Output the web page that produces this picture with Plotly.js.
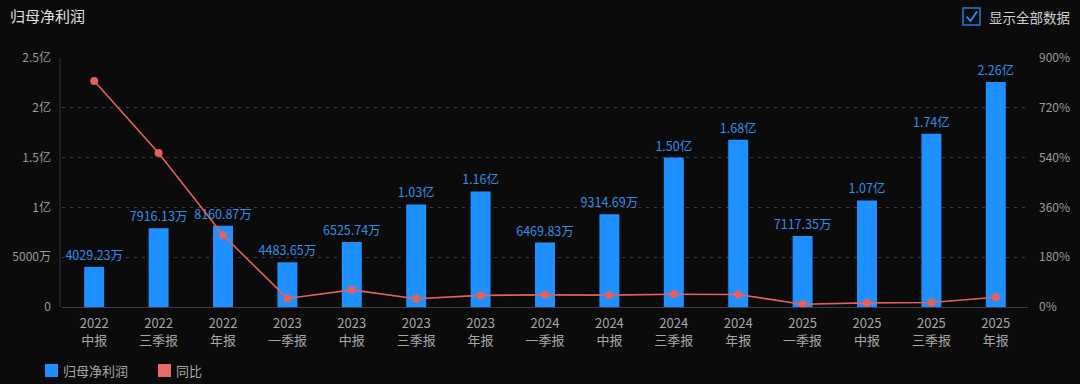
<!DOCTYPE html>
<html>
<head>
<meta charset="utf-8">
<script src="https://cdn.plot.ly/plotly-3.0.1.min.js"></script>
<style>
html,body{margin:0;padding:0;background:#0b0b0c;}
#chart{width:1080px;height:384px;}
</style>
</head>
<body>
<div id="chart"></div>
<script>
const years = ["2022","2022","2022","2023","2023","2023","2023","2024","2024","2024","2024","2025","2025","2025","2025"];
const periods = ["中报","三季报","年报","一季报","中报","三季报","年报","一季报","中报","三季报","年报","一季报","中报","三季报","年报"];
const profit = [40292300, 79161300, 81608700, 44836500, 65257400, 103000000, 116000000, 64698300, 93146900, 150000000, 168000000, 71173500, 107000000, 174000000, 226000000];
const yoy = [817, 557, 260, 31, 62, 30, 42, 44, 43, 46, 45, 10, 15, 16, 35];
const leftTickVals = [0, 50000000, 100000000, 150000000, 200000000, 250000000];
const leftTickText = ["0", "5000万", "1亿", "1.5亿", "2亿", "2.5亿"];
const rightTickVals = [0, 180, 360, 540, 720, 900];
const rightTickText = ["0%", "180%", "360%", "540%", "720%", "900%"];

const cats = years.map((y, i) => y + "<br>" + periods[i]);
const labels = profit.map(v => v >= 1e8 ? (v / 1e8).toFixed(2) + "亿" : (v / 1e4).toFixed(2) + "万");

const W = 1080, H = 384, ML = 62, MR = 52, MT = 58, MB = 77;
const px = x => (x - ML) / (W - ML - MR);
const py = y => (H - MB - y) / (H - MT - MB);

const FONT = '"Noto Sans CJK SC", "Noto Sans", sans-serif';
const BLUE = '#1e90ff';
const RED = '#e4615c';

const traces = [
  {
    type: 'bar', x: cats, y: profit, name: '归母净利润',
    marker: {color: BLUE}, width: 0.31,
    text: labels, textposition: 'outside', constraintext: 'none', cliponaxis: false,
    textfont: {color: '#2f8fe6', size: 12.5, family: FONT},
    showlegend: false, hoverinfo: 'x+y'
  },
  {
    type: 'scatter', mode: 'lines+markers', x: cats, y: yoy, yaxis: 'y2', name: '同比',
    line: {color: RED, width: 1.6}, marker: {color: RED, size: 8},
    showlegend: false, cliponaxis: false
  }
];

const shapes = [
  {type: 'line', xref: 'paper', yref: 'paper', x0: px(60), x1: px(60), y0: 0, y1: 1, line: {color: '#2c3540', width: 1}},
  {type: 'rect', xref: 'paper', yref: 'paper', x0: px(963), x1: px(980), y0: py(25), y1: py(8), line: {color: '#1e7fd8', width: 1.5}, fillcolor: 'rgba(0,0,0,0)'},
  {type: 'path', xref: 'paper', yref: 'paper', path: `M ${px(966.5)} ${py(16.5)} L ${px(970.5)} ${py(21)} L ${px(977)} ${py(11.5)}`, line: {color: '#1e90ff', width: 1.8}},
  {type: 'rect', xref: 'paper', yref: 'paper', x0: px(45), x1: px(58), y0: py(377), y1: py(364), line: {width: 0}, fillcolor: BLUE},
  {type: 'rect', xref: 'paper', yref: 'paper', x0: px(158), x1: px(171), y0: py(377), y1: py(364), line: {width: 0}, fillcolor: '#e8696a'}
];

const annotations = [
  {xref: 'paper', yref: 'paper', x: px(8), y: py(16), xanchor: 'left', yanchor: 'middle', showarrow: false, text: '归母净利润', font: {color: '#e0e0e0', size: 15, family: FONT}},
  {xref: 'paper', yref: 'paper', x: px(987), y: py(17), xanchor: 'left', yanchor: 'middle', showarrow: false, text: '显示全部数据', font: {color: '#d0d0d0', size: 13.5, family: FONT}},
  {xref: 'paper', yref: 'paper', x: px(61), y: py(370.5), xanchor: 'left', yanchor: 'middle', showarrow: false, text: '归母净利润', font: {color: '#a8a8a8', size: 13, family: FONT}},
  {xref: 'paper', yref: 'paper', x: px(174), y: py(370.5), xanchor: 'left', yanchor: 'middle', showarrow: false, text: '同比', font: {color: '#a8a8a8', size: 13, family: FONT}}
];

const layout = {
  width: W, height: H,
  margin: {l: ML, r: MR, t: MT, b: MB, pad: 0},
  paper_bgcolor: '#0b0b0c', plot_bgcolor: '#0b0b0c',
  font: {family: FONT, color: '#999'},
  bargap: 0.69,
  xaxis: {
    type: 'category', range: [-0.5, cats.length - 0.5], autorange: false,
    showgrid: false, zeroline: false,
    showline: true, linecolor: '#35414d', linewidth: 1,
    ticks: '', tickfont: {color: '#a6a6a6', size: 13, family: FONT}, ticklabelstandoff: 4
  },
  yaxis: {
    range: [0, 250000000], tickvals: leftTickVals, ticktext: leftTickText,
    showgrid: true, gridcolor: '#3a3a3a', griddash: '3px,5px', gridwidth: 1,
    zeroline: false, showline: false, ticks: '',
    tickfont: {color: '#9a9a9a', size: 12, family: FONT}, ticklabelstandoff: 10
  },
  yaxis2: {
    overlaying: 'y', side: 'right', range: [0, 900], tickvals: rightTickVals, ticktext: rightTickText,
    showgrid: false, zeroline: false, showline: false, ticks: '',
    tickfont: {color: '#9a9a9a', size: 12, family: FONT}, ticklabelstandoff: 10
  },
  shapes: shapes,
  annotations: annotations,
  showlegend: false
};

Plotly.newPlot('chart', traces, layout, {displayModeBar: false, staticPlot: true});
</script>
</body>
</html>
